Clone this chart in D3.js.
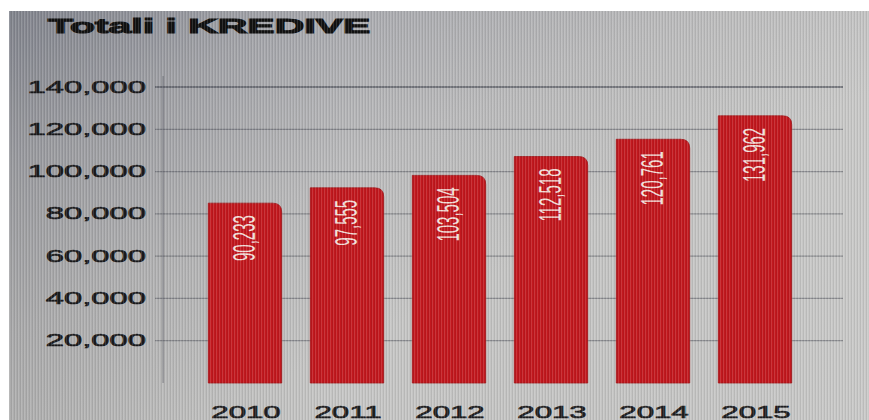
<!DOCTYPE html>
<html>
<head>
<meta charset="utf-8">
<script src="https://cdn.jsdelivr.net/npm/d3@7"></script>
<style>
	html, body { margin:0; padding:0; background:#c0c0c0; overflow:hidden; }
	svg { display:block; overflow:visible; }
</style>
</head>
<body>
<div id="chart"></div>
<script>
var years = ["2010","2011","2012","2013","2014","2015"];
var credits = [90233, 97555, 103504, 112518, 120761, 131962];
var yTicks = [20000, 40000, 60000, 80000, 100000, 120000, 140000];
var title = "Totali i KREDIVE";

var width = 869, height = 420;
var stretch = 1.95; //the photo is wide, text looks pulled sideways

var svg = d3.select('#chart').append('svg')
	.attr('width', width)
	.attr('height', height);

var defs = svg.append('defs');

var bg = defs.append('linearGradient')
	.attr('id','bgGrad')
	.attr('gradientUnits','userSpaceOnUse')
	.attr('x1', 0).attr('y1', 11).attr('x2', 200).attr('y2', height);
bg.append('stop').attr('offset','0%').attr('stop-color','#8e919b');
bg.append('stop').attr('offset','30%').attr('stop-color','#a8a9ae');
bg.append('stop').attr('offset','65%').attr('stop-color','#bbbbbc');
bg.append('stop').attr('offset','100%').attr('stop-color','#c6c6c5');

var side = defs.append('linearGradient')
	.attr('id','sideGrad')
	.attr('gradientUnits','userSpaceOnUse')
	.attr('x1', 0).attr('y1', 0).attr('x2', width).attr('y2', 0);
side.append('stop').attr('offset','0%').attr('stop-color','#000').attr('stop-opacity',0.1);
side.append('stop').attr('offset','40%').attr('stop-color','#000').attr('stop-opacity',0);
side.append('stop').attr('offset','100%').attr('stop-color','#fff').attr('stop-opacity',0.05);

//vertical stripes from the screen photo
var stripes = defs.append('pattern')
	.attr('id','stripes')
	.attr('width', 3).attr('height', 10)
	.attr('patternUnits','userSpaceOnUse');
stripes.append('rect').attr('x',0).attr('y',0).attr('width',1).attr('height',10)
	.attr('fill','#fff').attr('opacity',0.13);
stripes.append('rect').attr('x',2).attr('y',0).attr('width',1).attr('height',10)
	.attr('fill','#000').attr('opacity',0.07);

// white border strips, then the photo area
svg.append('rect').attr('width', width).attr('height', height).attr('fill','#fff');
svg.append('rect').attr('x', 9).attr('y', 11).attr('width', width - 9).attr('height', height-11)
	.attr('fill','url(#bgGrad)');
svg.append('rect').attr('x', 9).attr('y', 11).attr('width', width - 9).attr('height', height-11)
	.attr('fill','url(#sideGrad)');

// scales
var x = d3.scaleBand()
	.domain(years)
	.range([194, 806])
	.paddingInner(0.28)
	.paddingOuter(0.14);

var y = d3.scaleLinear()
	.domain([0, 140000])
	.range([383, 87]);

// bars sit a little lower than the printed axis in the original
var barY = d3.scaleLinear()
	.domain([0, 140000])
	.range([392, 99]);

// grid + ticks
var grid = svg.append('g').attr('class','grid');
grid.selectAll('line')
	.data(yTicks)
	.enter().append('line')
	.attr('x1', 155)
	.attr('x2', 843)
	.attr('y1', function(d){ return y(d); })
	.attr('y2', function(d){ return y(d); })
	.style('stroke', '#4d505a')
	.style('stroke-opacity', function(d){ return d == 140000 ? 0.85 : 0.5; })
	.style('stroke-width', 1.3);

svg.append('line')
	.attr('x1', 163).attr('x2', 163)
	.attr('y1', y(140000) - 11).attr('y2', y(0))
	.style('stroke', '#4d505a')
	.style('stroke-opacity', 0.5)
	.style('stroke-width', 1.3);

var yAxis = svg.append('g').attr('class','y-axis');
yAxis.selectAll('text')
	.data(yTicks)
	.enter().append('text')
	.attr('transform', function(d){ return 'translate(146,' + y(d) + ') scale(2.05,1)'; })
	.attr('dy', '0.35em')
	.attr('text-anchor', 'end')
	.style('font-family', 'Liberation Sans, Arial, sans-serif')
	.style('font-size', '16px')
	.style('fill', '#19191b')
	.style('stroke', '#19191b')
	.style('stroke-width', 0.6)
	.text(function(d){ return d3.format(',')(d); });

// bars with one rounded corner (top right)
var r = 9;
function barPath(d, i) {
	var x0 = x(years[i]), x1 = x0 + x.bandwidth();
	var top = barY(d), bottom = y(0);
	return 'M' + x0 + ',' + bottom +
		'L' + x0 + ',' + top +
		'L' + (x1 - r) + ',' + top +
		'Q' + x1 + ',' + top + ' ' + x1 + ',' + (top + r) +
		'L' + x1 + ',' + bottom + 'Z';
}

var bars = svg.append('g').attr('class','bars');
bars.selectAll('path')
	.data(credits)
	.enter().append('path')
	.attr('d', barPath)
	.style('fill', '#c2181e')
	.style('stroke', '#a3161b')
	.style('stroke-width', 0.8);

// values written up the bar
bars.selectAll('text')
	.data(credits)
	.enter().append('text')
	.attr('transform', function(d, i){
		var cx = x(years[i]) + x.bandwidth()/2 - 1;
		return 'translate(' + cx + ',' + (barY(d) + 12) + ') scale(2.05,1) rotate(-90)';
	})
	.attr('dy', '0.36em')
	.attr('text-anchor', 'end')
	.style('font-family', 'Liberation Sans Narrow, Liberation Sans, Arial, sans-serif')
	.style('font-size', '15px')
	.style('fill', '#f4dfd9')
	.text(function(d){ return d3.format(',')(d); });

// year labels
svg.append('g').attr('class','x-axis')
	.selectAll('text')
	.data(years)
	.enter().append('text')
	.attr('transform', function(d){ return 'translate(' + (x(d) + x.bandwidth()/2 + 1) + ',418) scale(' + stretch + ',1)'; })
	.attr('text-anchor', 'middle')
	.style('font-family', 'Liberation Sans, Arial, sans-serif')
	.style('font-size', '16px')
	.style('fill', '#1d1d1f')
	.style('stroke', '#1d1d1f')
	.style('stroke-width', 0.6)
	.text(function(d){ return d; });

// title
svg.append('text')
	.attr('transform', 'translate(48,33) scale(' + stretch + ',1)')
	.style('font-family', 'Liberation Sans, Arial, sans-serif')
	.style('font-weight', 'bold')
	.style('font-size', '21px')
	.style('fill', '#111')
	.style('stroke', '#111')
	.style('stroke-width', 1.1)
	.text(title);

// screen texture over everything
svg.append('rect').attr('x', 9).attr('y', 11).attr('width', width - 9).attr('height', height-11)
	.attr('fill','url(#stripes)')
	.style('pointer-events','none');
</script>
</body>
</html>
